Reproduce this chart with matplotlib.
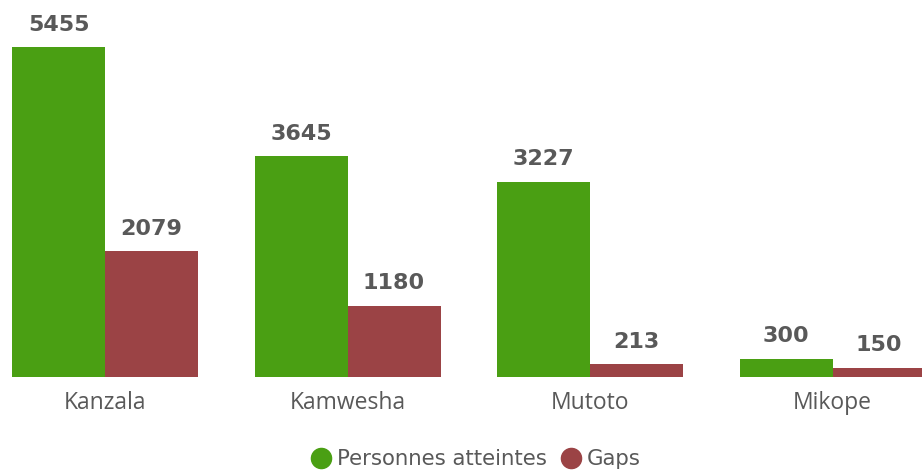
import matplotlib.pyplot as plt
from matplotlib.lines import Line2D
import numpy as np

categories = ["Kanzala", "Kamwesha", "Mutoto", "Mikope"]
reached = [5455, 3645, 3227, 300]
gaps = [2079, 1180, 213, 150]
series_names = ["Personnes atteintes", "Gaps"]

green = "#4a9f13"
red = "#9b4345"
text_gray = "#595959"

fig = plt.figure(figsize=(9.22, 4.71), dpi=100)
ax = fig.add_axes([0, 0.1996, 1, 0.8004])

x = np.arange(len(categories))
w = 0.3835
b1 = ax.bar(x - w / 2, reached, w, color=green)
b2 = ax.bar(x + w / 2, gaps, w, color=red)

for bars, vals in ((b1, reached), (b2, gaps)):
    for bar, v in zip(bars, vals):
        ax.annotate(f"{v}", (bar.get_x() + bar.get_width() / 2, v),
                    xytext=(0, 9), textcoords="offset points",
                    ha="center", va="bottom", fontsize=16,
                    fontweight="bold", color=text_gray, family="DejaVu Sans")

ax.set_xlim(-0.433, 3.369)
ax.set_ylim(0, 6232)
ax.set_xticks(x)
ax.set_xticklabels(categories, fontsize=16.5, color=text_gray, family="Open Sans")
ax.tick_params(axis="x", length=0, pad=10)
ax.set_yticks([])
for s in ax.spines.values():
    s.set_visible(False)

handles = [Line2D([], [], marker="o", linestyle="", markersize=14.5, color=c)
           for c in (green, red)]
fig.legend(handles, series_names, loc="center", bbox_to_anchor=(0.51, 0.025),
           ncol=2, frameon=False, handletextpad=-0.25, columnspacing=0.1,
           prop={"family": "DejaVu Sans", "size": 15.3}, labelcolor=text_gray)

fig.savefig("out.png", dpi=100)
